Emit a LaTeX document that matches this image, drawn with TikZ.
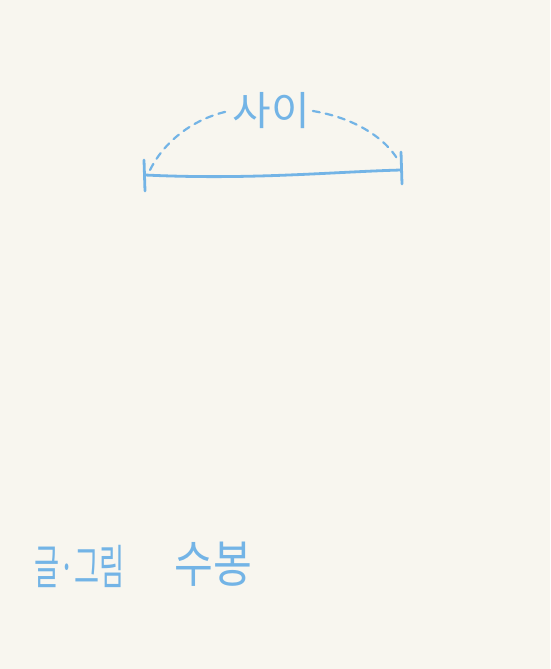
\documentclass[tikz,border=0pt]{standalone}
\usepackage{fontspec}
\newfontfamily\krfont{Noto Sans CJK KR}
\definecolor{paper}{RGB}{248,246,239}
\definecolor{pencil}{RGB}{115,180,230}
\begin{document}
\begin{tikzpicture}[x=1pt,y=-1pt,
  pen/.style={draw=pencil,line width=2.8pt,line cap=round},
  dashline/.style={pen,line width=2.2pt,dash pattern=on 7pt off 6pt},
  lbl/.style={text=pencil,inner sep=0pt}]
\fill[paper] (0,0) rectangle (550,669);
\useasboundingbox (0,0) rectangle (550,669);
\coordinate (L) at (145,175);
\coordinate (R) at (401,170);
\coordinate (Lt) at (144,160);
\coordinate (Lb) at (145,191);
\coordinate (Rt) at (401,152);
\coordinate (Rb) at (402,184);
\node[lbl,font=\krfont\fontsize{40}{40}\selectfont,xscale=1.05] (t) at (271,111) {사이};
\draw[pen] (L) .. controls (250,180) and (330,172) .. (R);
\draw[pen] (Lt) -- (Lb);
\draw[pen] (Rt) -- (Rb);
\draw[dashline] (150,170) .. controls (165,140) and (195,118) .. ([xshift=-3pt]t.west);
\draw[dashline] ([xshift=3pt]t.east) .. controls (355,118) and (385,138) .. (398,160);
\node[lbl,font=\krfont\fontsize{44}{44}\selectfont,anchor=west,xscale=0.62,yscale=1.08] (a) at (34,566) {글·그림};
\node[lbl,font=\krfont\fontsize{48}{48}\selectfont,anchor=west,xscale=0.88,yscale=1.05] (b) at (174,564) {수봉};
\end{tikzpicture}
\end{document}
